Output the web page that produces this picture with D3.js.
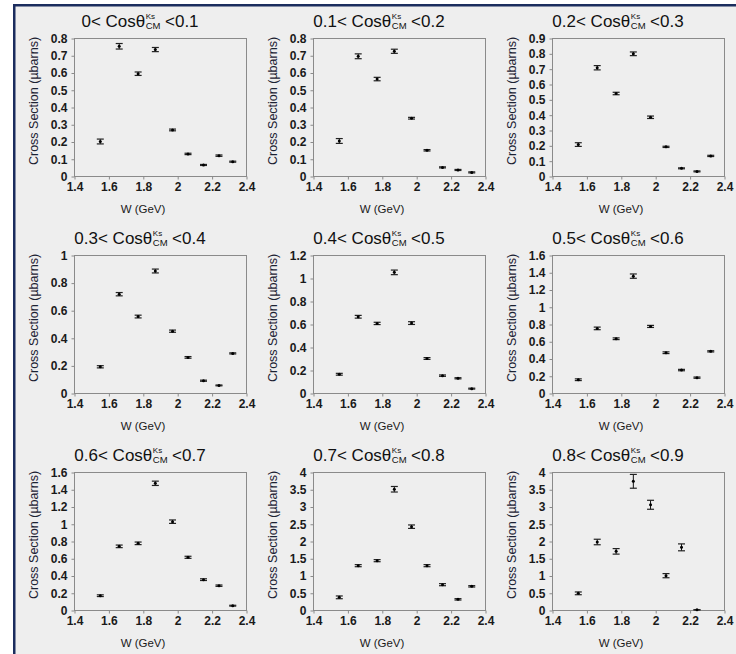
<!DOCTYPE html>
<meta charset="utf-8">
<html>
<head>
  <style>
  body { margin: 0; background: #fff; }
  text { font-family: "Liberation Sans", Arial, sans-serif; }
  text.tick { font-size: 12px; font-weight: bold; fill: #1a1a1a; }
  text.ytitle { font-size: 12.5px; fill: #1c2233; }
  text.xtitle { font-size: 11.5px; fill: #1a1a1a; }
  text.title { font-size: 17px; fill: #111; }
  </style>
  <script src="https://cdn.jsdelivr.net/npm/d3@7"></script>
</head>
<body>
  <div id="chart"></div>
  <script type="text/javascript">
  // W bins (GeV)
  var W = [1.55, 1.66, 1.77, 1.87, 1.97, 2.06, 2.15, 2.24, 2.32];

  // cos theta bins
  var binLow = ["0", "0.1", "0.2", "0.3", "0.4", "0.5", "0.6", "0.7", "0.8"];
  var binHigh = ["0.1", "0.2", "0.3", "0.4", "0.5", "0.6", "0.7", "0.8", "0.9"];

  // y axis max and tick step of each panel
  var yMax = [0.8, 0.8, 0.9, 1, 1.2, 1.6, 1.6, 4, 4];
  var yStep = [0.1, 0.1, 0.1, 0.2, 0.2, 0.2, 0.2, 0.5, 0.5];

  var xTicks = [1.4, 1.6, 1.8, 2, 2.2, 2.4];

  // cross sections (ubarns) and errors
  var xs1 = [0.200, 0.752, 0.593, 0.733, 0.267, 0.128, 0.064, 0.118, 0.083];
  var er1 = [0.014, 0.016, 0.010, 0.012, 0.005, 0.004, 0.003, 0.004, 0.003];
  var xs2 = [0.203, 0.694, 0.562, 0.723, 0.335, 0.149, 0.050, 0.035, 0.021];
  var er2 = [0.014, 0.014, 0.010, 0.012, 0.005, 0.004, 0.003, 0.003, 0.003];
  var xs3 = [0.205, 0.706, 0.538, 0.797, 0.383, 0.190, 0.050, 0.030, 0.131];
  var er3 = [0.012, 0.014, 0.008, 0.012, 0.008, 0.004, 0.003, 0.003, 0.004];
  var xs4 = [0.190, 0.716, 0.554, 0.884, 0.448, 0.258, 0.089, 0.055, 0.287];
  var er4 = [0.008, 0.012, 0.010, 0.014, 0.008, 0.006, 0.004, 0.003, 0.004];
  var xs5 = [0.163, 0.663, 0.605, 1.049, 0.608, 0.300, 0.151, 0.128, 0.038];
  var er5 = [0.008, 0.012, 0.010, 0.020, 0.012, 0.008, 0.006, 0.005, 0.004];
  var xs6 = [0.154, 0.749, 0.629, 1.355, 0.772, 0.467, 0.266, 0.178, 0.483];
  var er6 = [0.010, 0.015, 0.010, 0.025, 0.012, 0.010, 0.008, 0.007, 0.007];
  var xs7 = [0.166, 0.738, 0.773, 1.469, 1.024, 0.611, 0.352, 0.282, 0.050];
  var er7 = [0.010, 0.015, 0.015, 0.025, 0.020, 0.012, 0.010, 0.008, 0.005];
  var xs8 = [0.367, 1.285, 1.430, 3.500, 2.415, 1.285, 0.734, 0.309, 0.686];
  var er8 = [0.040, 0.030, 0.030, 0.080, 0.050, 0.030, 0.030, 0.020, 0.020];
  var xs9 = [0.483, 1.971, 1.700, 3.730, 3.050, 0.995, 1.816, 0.005, null];
  var er9 = [0.040, 0.080, 0.080, 0.200, 0.130, 0.060, 0.100, 0.000, null];

  var values = [xs1, xs2, xs3, xs4, xs5, xs6, xs7, xs8, xs9];
  var errors = [er1, er2, er3, er4, er5, er6, er7, er8, er9];

  // layout
  var colLeft = [74, 313, 552];
  var rowTop = [38, 255, 472];
  var plotW = 172, plotH = 138;

  var svg = d3.select("#chart").append("svg")
    .attr("width", 736)
    .attr("height", 654);

  // page background with dark frame
  svg.append("rect")
    .attr("x", 14.25).attr("y", 5.25)
    .attr("width", 760).attr("height", 700)
    .style("fill", "#eeeeee")
    .style("stroke", "#1b2d5e")
    .style("stroke-width", 2.5);

  var fmt = function(d) { return String(+d.toFixed(2)); };

  values.forEach(function(vals, p) {
    var col = p % 3, row = Math.floor(p / 3);
    var g = svg.append("g")
      .attr("transform", "translate(" + colLeft[col] + "," + rowTop[row] + ")");

    var x = d3.scaleLinear().domain([1.4, 2.4]).range([0, plotW]);
    var y = d3.scaleLinear().domain([0, yMax[p]]).range([plotH, 0]);

    var yTicks = d3.range(0, yMax[p] + yStep[p] / 2, yStep[p]);

    // frame
    g.append("rect")
      .attr("x", 0.5).attr("y", 0.5)
      .attr("width", plotW).attr("height", plotH)
      .style("fill", "none")
      .style("stroke", "#8a8a8a");

    var xAxis = g.append("g")
      .attr("transform", "translate(0.5," + (plotH + 0.5) + ")")
      .call(d3.axisBottom(x).tickValues(xTicks).tickFormat(fmt).tickSize(3).tickPadding(3));
    var yAxis = g.append("g")
      .attr("transform", "translate(0.5,0.5)")
      .call(d3.axisLeft(y).tickValues(yTicks).tickFormat(fmt).tickSize(3).tickPadding(4));
    [xAxis, yAxis].forEach(function(a) {
      a.select(".domain").remove();
      a.selectAll("line").style("stroke", "#8a8a8a");
      a.selectAll("text").attr("class", "tick").style("font-family", null).style("font-size", null).attr("fill", null);
    });

    // axis titles
    g.append("text")
      .attr("class", "xtitle")
      .attr("x", plotW / 2 - 17)
      .attr("y", plotH + 37)
      .attr("text-anchor", "middle")
      .text("W (GeV)");
    g.append("text")
      .attr("class", "ytitle")
      .attr("transform", "translate(-36," + (plotH / 2 - 6) + ") rotate(-90)")
      .attr("text-anchor", "middle")
      .text("Cross Section (\u00b5barns)");

    // title: low< Cos theta^Ks_CM <high
    var tg = g.append("g");
    var base = -11;
    var t1 = tg.append("text").attr("class", "title").attr("y", base)
      .text(binLow[p] + "< Cos\u03b8");
    var w1 = t1.node().getComputedTextLength();
    var sup = tg.append("text").attr("class", "title").attr("x", w1 + 0.5).attr("y", base - 8)
      .style("font-size", "8px").text("Ks");
    var sub = tg.append("text").attr("class", "title").attr("x", w1 + 0.5).attr("y", base + 2)
      .style("font-size", "9.5px").text("CM");
    var w2 = Math.max(sup.node().getComputedTextLength(), sub.node().getComputedTextLength());
    var gap = 5;
    var t3 = tg.append("text").attr("class", "title").attr("x", w1 + w2 + gap).attr("y", base)
      .text("<" + binHigh[p]);
    var total = w1 + w2 + gap + t3.node().getComputedTextLength();
    tg.attr("transform", "translate(" + (plotW / 2 - 20 - total / 2) + ",0)");

    // data points with error bars
    var pts = W.map(function(w, i) { return { w: w, v: vals[i], e: errors[p][i] }; })
      .filter(function(d) { return d.v != null; });

    var pt = g.selectAll(".pt").data(pts).enter().append("g")
      .attr("class", "pt")
      .attr("transform", function(d) { return "translate(" + (x(d.w) + 0.5) + ",0)"; });
    pt.append("line")
      .attr("x1", 0).attr("x2", 0)
      .attr("y1", function(d) { return y(d.v - d.e); })
      .attr("y2", function(d) { return y(d.v + d.e); })
      .style("stroke", "#111").style("stroke-width", 1);
    [-1, 1].forEach(function(s) {
      pt.append("line")
        .attr("x1", -3.5).attr("x2", 3.5)
        .attr("y1", function(d) { return y(d.v + s * d.e); })
        .attr("y2", function(d) { return y(d.v + s * d.e); })
        .style("stroke", "#222").style("stroke-width", 1.2);
    });
    pt.append("circle")
      .attr("cx", 0)
      .attr("cy", function(d) { return y(d.v); })
      .attr("r", 1.5)
      .style("fill", "#000");
  });
  </script>
</body>
</html>
